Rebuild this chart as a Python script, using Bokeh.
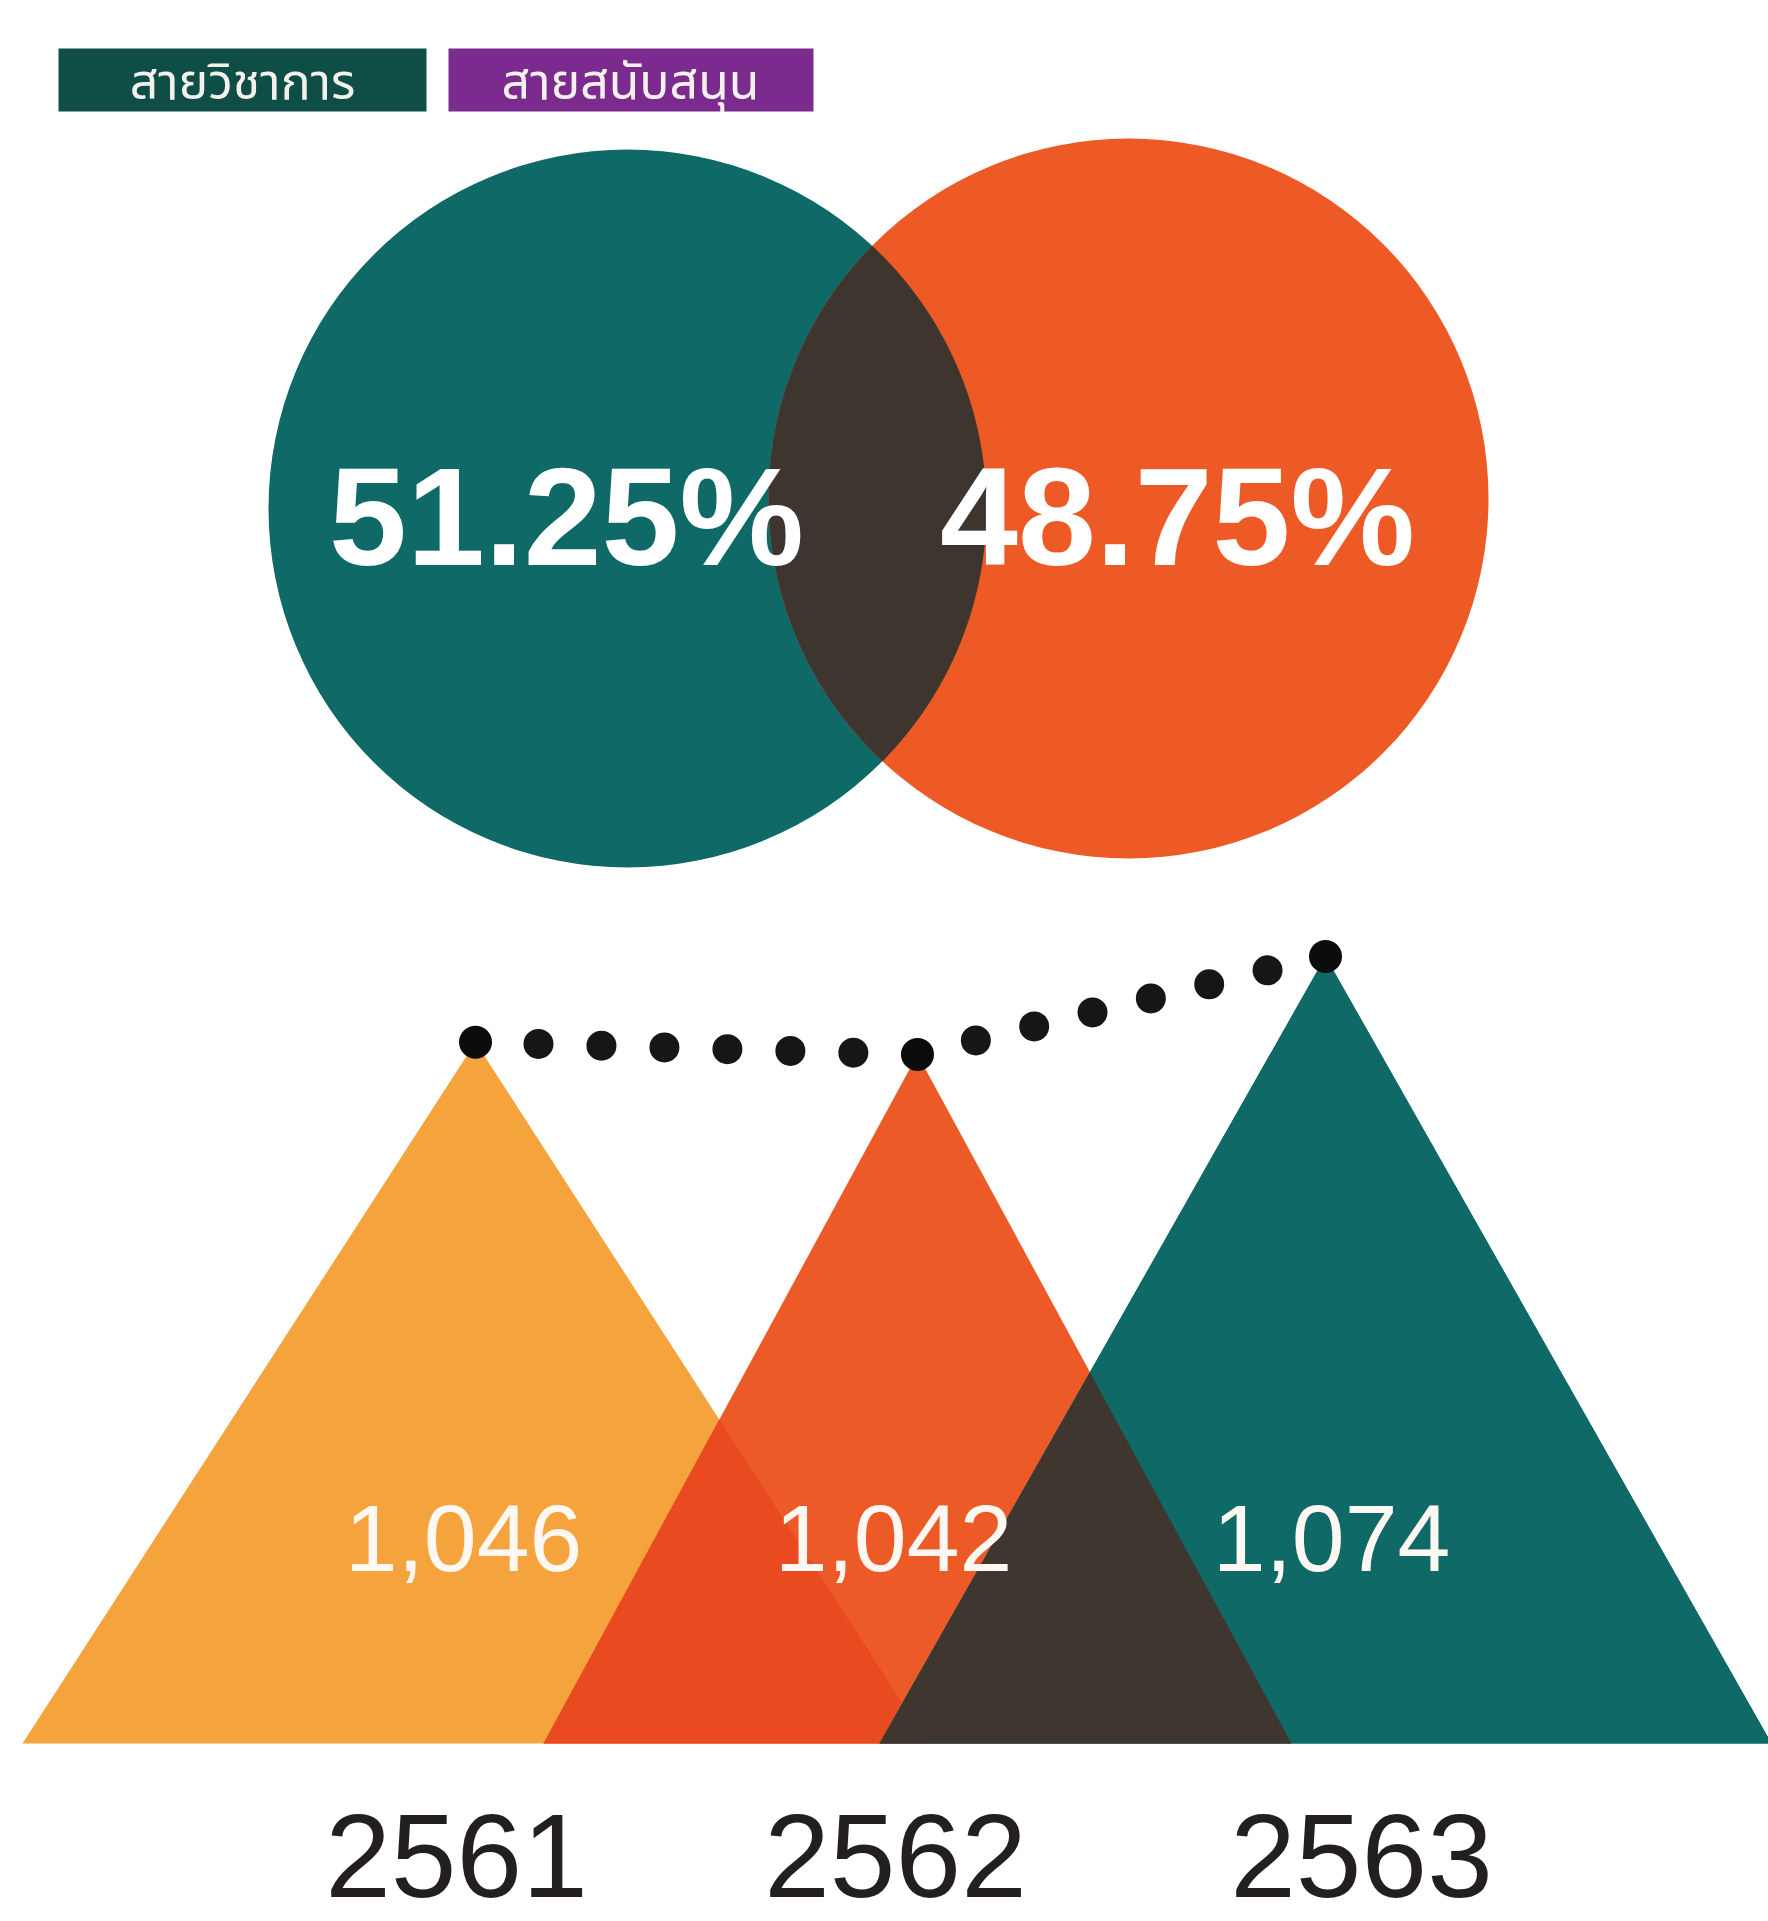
from bokeh.plotting import figure
from bokeh.models import Range1d
from bokeh.core.properties import value
from bokeh.embed import file_html
from bokeh.resources import INLINE
import numpy as np

# ---------------- data ----------------
group_labels = ["สายวิชาการ", "สายสนับสนุน"]
group_shares = [51.25, 48.75]
years = ["2561", "2562", "2563"]
staff_counts = [1046, 1042, 1074]

# ---------------- layout / styles (page-pixel coordinates) ----------------
W, H = 1768, 1921
legend_left = [58, 448]
legend_right = [426, 813]
legend_top, legend_bottom = 48, 111
legend_colors = ["#0F4E47", "#7B2B8E"]
legend_text_x = [242, 630]
legend_text_y = 83

circle_x = [627, 1128]
circle_y = [508, 498]
circle_r = [359, 360]
circle_colors = ["#0F6A67", "#EE5A25"]
lens_color = "#3E352F"
share_label_x = [566, 1177]
share_label_y = 516

tri_apex_x = [475, 917, 1325]
tri_half_w = [453, 374, 446]
tri_colors = ["#F5A33C", "#EC5A27", "#0F6A67"]
overlap_yr_color = "#EA4A20"
overlap_rt_color = "#3F362F"
count_label_x = [463, 893, 1331]
count_label_y = 1538
year_label_x = [456, 895, 1361]
year_label_y = 1855

BASE_PX = 1743      # page-pixel row of the triangles' base
VAL_BASE = 817      # value at the base line
PX_PER_UNIT = 3.0625


def val_at(px):
    return VAL_BASE + (BASE_PX - px) / PX_PER_UNIT


def clip_polygon(subject, clipper):
    n = len(clipper)
    area = sum(clipper[i][0] * clipper[(i + 1) % n][1] - clipper[(i + 1) % n][0] * clipper[i][1] for i in range(n))
    s = 1.0 if area > 0 else -1.0
    out = list(subject)
    for i in range(n):
        a, b = clipper[i], clipper[(i + 1) % n]
        inp, out = out, []
        if not inp:
            break

        def side(p):
            return s * ((b[0] - a[0]) * (p[1] - a[1]) - (b[1] - a[1]) * (p[0] - a[0]))

        prev = inp[-1]
        for cur in inp:
            dc, dp = side(cur), side(prev)
            if dc >= 0:
                if dp < 0:
                    t = dp / (dp - dc)
                    out.append((prev[0] + t * (cur[0] - prev[0]), prev[1] + t * (cur[1] - prev[1])))
                out.append(cur)
            elif dp >= 0:
                t = dp / (dp - dc)
                out.append((prev[0] + t * (cur[0] - prev[0]), prev[1] + t * (cur[1] - prev[1])))
            prev = cur
    return out


p = figure(width=W, height=H, x_range=Range1d(0, W), y_range=Range1d(H, 0),
           output_backend="svg", toolbar_location=None, min_border=0)
p.extra_y_ranges = {"val": Range1d(start=val_at(H), end=val_at(0))}
p.axis.visible = False
p.grid.visible = False
p.outline_line_color = None
p.background_fill_color = "white"
p.border_fill_color = "white"

# ---- legend swatches ----
p.quad(left=legend_left, right=legend_right, top=legend_top, bottom=legend_bottom,
       fill_color=legend_colors, line_color=None)
p.text(x=legend_text_x, y=[legend_text_y] * 2, text=group_labels,
       text_font=value("Noto Sans Thai"), text_font_size="50px", text_color="#F4F1EC",
       text_align="center", text_baseline="alphabetic")

# ---- venn circles ----
p.circle(x=circle_x, y=circle_y, radius=circle_r, fill_color=circle_colors, line_color=None)
theta = np.linspace(0, 2 * np.pi, 720, endpoint=False)
polys = [list(zip(cx + r * np.cos(theta), cy + r * np.sin(theta)))
         for cx, cy, r in zip(circle_x, circle_y, circle_r)]
lens = clip_polygon(polys[0], polys[1])
p.patch(x=[q[0] for q in lens], y=[q[1] for q in lens], fill_color=lens_color, line_color=None)
p.text(x=share_label_x, y=[share_label_y] * 2, text=[f"{s:.2f}%" for s in group_shares],
       text_font=value("Liberation Sans"), text_font_style="bold", text_font_size="140px",
       text_color="white", text_align="center", text_baseline="alphabetic")

# ---- triangles ----
tris = [[(ax - hw, VAL_BASE), (ax, v), (ax + hw, VAL_BASE)]
        for ax, hw, v in zip(tri_apex_x, tri_half_w, staff_counts)]
p.patches(xs=[[q[0] for q in t] for t in tris], ys=[[q[1] for q in t] for t in tris],
          fill_color=tri_colors, line_color=None, y_range_name="val")
ov1 = clip_polygon(tris[1], tris[0])
p.patch(x=[q[0] for q in ov1], y=[q[1] for q in ov1], fill_color=overlap_yr_color,
        line_color=None, y_range_name="val")
p.patch(x=[q[0] for q in tris[2]], y=[q[1] for q in tris[2]], fill_color=tri_colors[2],
        line_color=None, y_range_name="val")
ov2 = clip_polygon(tris[1], tris[2])
p.patch(x=[q[0] for q in ov2], y=[q[1] for q in ov2], fill_color=overlap_rt_color,
        line_color=None, y_range_name="val")

# ---- dotted trend line: one dotted segment per pair of years ----
for i in range(len(staff_counts) - 1):
    seg_len = np.hypot(tri_apex_x[i + 1] - tri_apex_x[i],
                       (staff_counts[i + 1] - staff_counts[i]) * PX_PER_UNIT)
    gap = int(round(seg_len / 7))
    p.line(x=tri_apex_x[i:i + 2], y=staff_counts[i:i + 2], line_color="#161616", line_width=30,
           line_dash=f"0 {gap}", line_cap="round", y_range_name="val")
p.scatter(x=tri_apex_x, y=staff_counts, size=33, fill_color="#0C0C0C", line_color=None,
          y_range_name="val")

p.text(x=count_label_x, y=[count_label_y] * 3, text=[f"{v:,}" for v in staff_counts],
       text_font=value("Liberation Sans"), text_font_size="95px", text_color="#FFF8F2",
       text_align="center", text_baseline="alphabetic")
p.text(x=year_label_x, y=[year_label_y] * 3, text=years,
       text_font=value("Liberation Sans"), text_font_size="118px", text_color="#231F20",
       text_align="center", text_baseline="alphabetic")

open("out.html", "w").write(file_html(p, INLINE))
